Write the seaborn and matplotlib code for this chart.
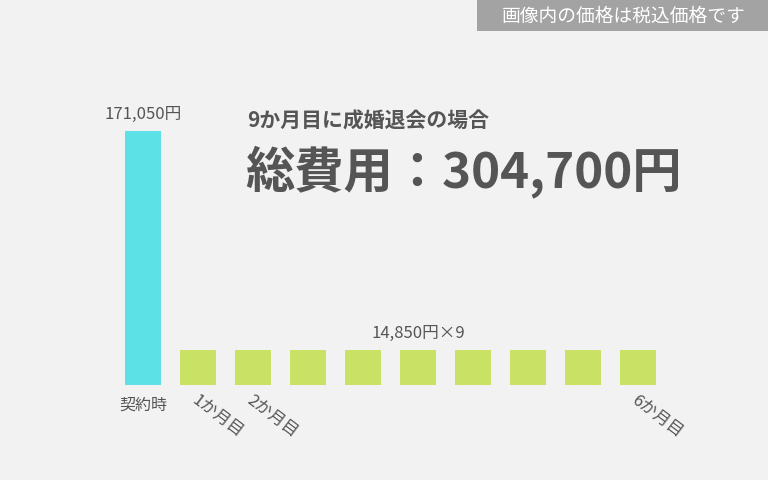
import matplotlib
matplotlib.use("Agg")
import matplotlib.pyplot as plt
import matplotlib.transforms as mtransforms
import seaborn as sns
import pandas as pd
from matplotlib.patches import Rectangle

# ---- data ----
slots = ["契約時", "1か月目", "2か月目", "3か月目", "4か月目", "5か月目",
         "6か月目", "7か月目", "8か月目", "9か月目"]
tick_labels = ["契約時", "1か月目", "2か月目", "", "", "", "", "", "", "6か月目"]
# bar heights as drawn in the picture (the monthly bars are drawn taller than to scale)
bar_heights = [171050, 23600, 23600, 23600, 23600, 23600, 23600, 23600, 23600, 23600]
kinds = ["契約時", "月会費", "月会費", "月会費", "月会費", "月会費", "月会費", "月会費", "月会費", "月会費"]
initial_label = "171,050円"
monthly_label = "14,850円×9"
subtitle = "9か月目に成婚退会の場合"
total_text = "総費用：304,700円"
badge_text = "画像内の価格は税込価格です"

sns.set_theme(style="white")
plt.rcParams['font.family'] = ['Noto Sans CJK JP', 'DejaVu Sans']

BG = "#f2f2f2"
TXT = "#555555"
fig = plt.figure(figsize=(7.68, 4.8), dpi=100, facecolor=BG)
ax = fig.add_axes([115.5 / 768, 95 / 480, 550 / 768, 285 / 480])
ax.set_facecolor("none")

df = pd.DataFrame({"slot": slots, "height": bar_heights, "kind": kinds})
sns.barplot(data=df, x="slot", y="height", hue="kind",
            palette={"契約時": "#5ce1e6", "月会費": "#c9e265"},
            width=0.64, dodge=False, legend=False, ax=ax, saturation=1,
            linewidth=0)

ax.set_xlim(-0.5, 9.5)
ax.set_ylim(0, 171050 * 285 / 254)
ax.set_xlabel("")
ax.set_ylabel("")
ax.set_yticks([])
ax.set_xticks(range(len(tick_labels)))
ax.set_xticklabels([])
ax.tick_params(axis="x", length=0)
for s in ax.spines.values():
    s.set_visible(False)

base = mtransforms.blended_transform_factory(ax.transData, ax.transAxes)
for i, lab in enumerate(tick_labels):
    if not lab:
        continue
    if i == 0:
        ax.text(i, 0, lab, transform=base + mtransforms.ScaledTranslation(0, -12 / 100, fig.dpi_scale_trans),
                ha="center", va="top", fontsize=11.5, color=TXT)
    else:
        ax.text(i, 0, lab, transform=base + mtransforms.ScaledTranslation(1 / 100, -7 / 100, fig.dpi_scale_trans),
                ha="left", va="top", rotation=-37, rotation_mode="anchor",
                fontsize=12, color=TXT)

ax.annotate(initial_label, (0, bar_heights[0]), xytext=(0, 6), textcoords="offset points",
            ha="center", va="bottom", fontsize=12, color=TXT)
ax.annotate(monthly_label, (5, bar_heights[5]), xytext=(0, 6), textcoords="offset points",
            ha="center", va="bottom", fontsize=12, color=TXT)

fig.text(247 / 768, 1 - 121 / 480, subtitle, ha="left", va="center",
         fontsize=15, fontweight="bold", color=TXT)
fig.text(245 / 768, 1 - 172 / 480, total_text, ha="left", va="center",
         fontsize=35.5, fontweight="bold", color=TXT)

fig.patches.append(Rectangle((477 / 768, 1 - 31 / 480), 1 - 477 / 768, 31 / 480,
                             transform=fig.transFigure, facecolor="#a3a3a3",
                             edgecolor="none", zorder=0))
fig.text(624 / 768, 1 - 16 / 480, badge_text, ha="center", va="center",
         fontsize=13.5, color="white")

fig.savefig("out.png", dpi=100, facecolor=BG)
